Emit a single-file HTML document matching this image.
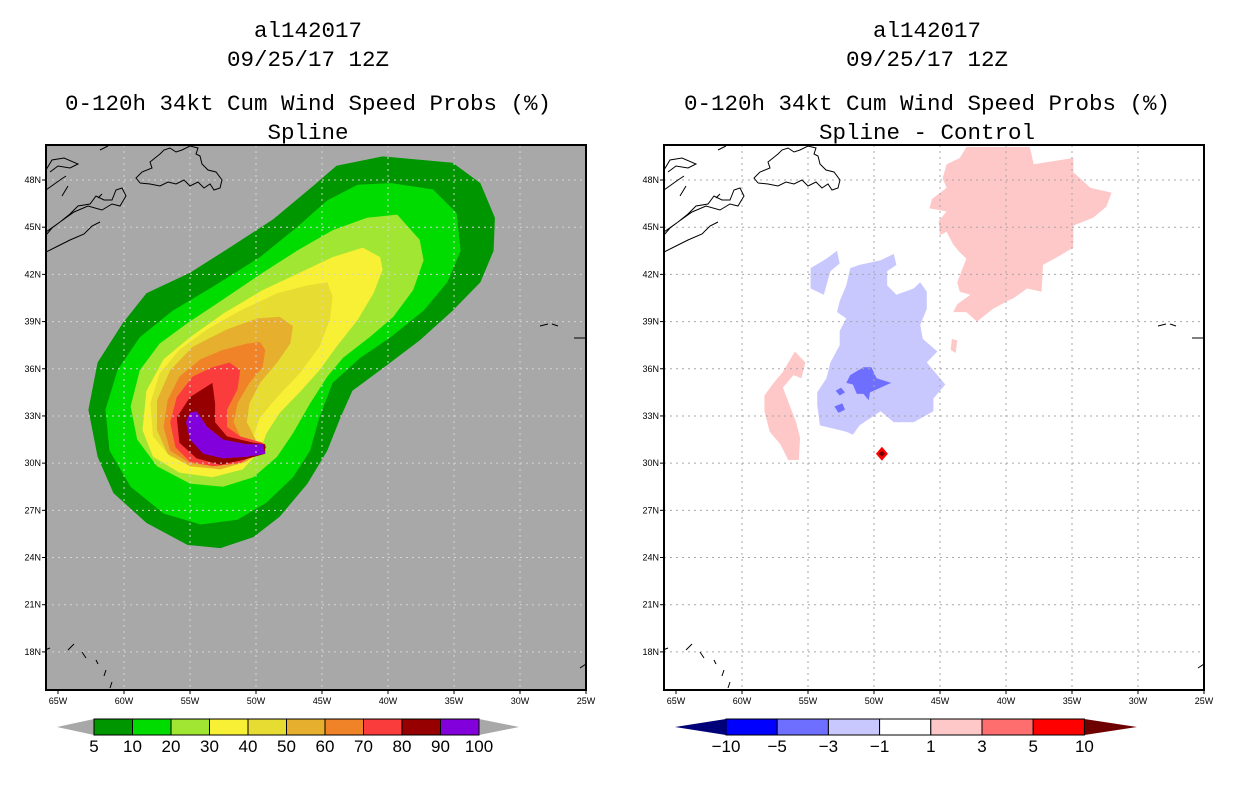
<!DOCTYPE html>
<html><head><meta charset="utf-8"><style>
body{margin:0;background:#fff;}
svg{display:block;font-family:"Liberation Sans",sans-serif;}
.t{font-family:"Liberation Mono","DejaVu Sans Mono",monospace;font-size:22.5px;text-anchor:middle;fill:#000}
.ax{font-size:9px;fill:#000}
</style></head><body>
<svg id="s" width="1236" height="800" viewBox="0 0 1236 800" xmlns="http://www.w3.org/2000/svg">
<text class="t" x="308" y="37">al142017</text>
<text class="t" x="308" y="66">09/25/17 12Z</text>
<text class="t" x="308" y="110">0-120h 34kt Cum Wind Speed Probs (%)</text>
<text class="t" x="308" y="139">Spline</text>
<text class="t" x="927" y="37">al142017</text>
<text class="t" x="927" y="66">09/25/17 12Z</text>
<text class="t" x="927" y="110">0-120h 34kt Cum Wind Speed Probs (%)</text>
<text class="t" x="927" y="139">Spline - Control</text>
</svg>
<script>
// ---- data ----
const lonTicks=[-65,-60,-55,-50,-45,-40,-35,-30,-25];
const lonLabels=["65W","60W","55W","50W","45W","40W","35W","30W","25W"];
const latTicks=[18,21,24,27,30,33,36,39,42,45,48];
const latLabels=["18N","21N","24N","27N","30N","33N","36N","39N","42N","45N","48N"];
const probLevels=[5,10,20,30,40,50,60,70,80,90];
const probColors=["#009600","#00dc00","#a0e632","#f8f034","#e6dc32","#e6af2d","#f08228","#fa3c3c","#960000","#8200dc"];
const probContours=[
[[-40.4,49.5],[-35.1,49.1],[-33.0,47.8],[-31.9,45.6],[-32.0,43.5],[-33.0,41.5],[-35.1,39.7],[-37.6,37.8],[-40.6,35.9],[-42.7,34.6],[-43.6,32.9],[-44.6,30.8],[-46.1,28.7],[-48.2,26.6],[-50.2,25.3],[-52.7,24.6],[-55.2,24.8],[-58.3,26.2],[-60.8,28.1],[-62.0,30.4],[-62.7,33.4],[-62.0,36.4],[-60.1,38.9],[-58.3,40.8],[-55.0,42.1],[-52.0,43.7],[-48.7,45.5],[-45.7,47.6],[-43.9,48.9]],
[[-39.8,47.8],[-36.6,47.4],[-34.8,45.9],[-34.5,43.5],[-35.5,41.5],[-37.3,39.7],[-39.8,38.0],[-42.1,36.7],[-44.2,35.1],[-45.2,32.9],[-45.9,30.8],[-47.2,29.1],[-49.2,27.5],[-51.4,26.4],[-54.2,26.1],[-57.0,26.8],[-59.5,28.5],[-61.1,30.8],[-61.4,33.4],[-60.5,35.9],[-58.8,38.0],[-56.3,39.7],[-53.3,41.2],[-49.7,43.1],[-46.9,45.0],[-44.6,46.7],[-42.3,47.7]],
[[-39.3,45.8],[-37.6,44.2],[-37.3,42.9],[-38.1,41.0],[-39.6,39.3],[-41.4,38.0],[-43.4,36.7],[-44.6,35.5],[-45.9,33.8],[-47.2,31.9],[-48.4,30.4],[-50.2,29.1],[-52.5,28.5],[-55.0,28.7],[-57.5,29.8],[-59.0,31.5],[-59.5,33.6],[-58.8,35.9],[-57.3,37.6],[-55.2,38.9],[-52.5,40.4],[-49.5,42.1],[-46.9,43.5],[-44.2,44.8],[-41.6,45.6]],
[[-41.9,43.7],[-40.6,43.1],[-40.4,42.3],[-41.1,40.8],[-42.3,39.1],[-43.9,37.4],[-45.2,35.9],[-46.7,34.5],[-48.2,33.2],[-49.2,31.9],[-49.7,30.8],[-51.0,29.6],[-53.3,29.1],[-55.8,29.4],[-57.8,30.4],[-58.6,32.1],[-58.3,34.6],[-57.0,36.6],[-55.0,38.0],[-52.5,39.5],[-49.5,41.0],[-46.7,42.1],[-44.2,43.1]],
[[-44.6,41.5],[-44.2,40.6],[-44.4,39.1],[-45.2,37.4],[-46.7,35.7],[-48.4,34.2],[-49.7,32.9],[-50.2,31.7],[-50.7,30.4],[-52.2,29.8],[-54.5,29.8],[-56.5,30.4],[-57.8,31.7],[-58.0,33.8],[-57.3,35.7],[-55.8,37.2],[-53.7,38.5],[-51.2,39.7],[-48.4,40.8],[-46.1,41.3]],
[[-48.2,39.3],[-47.2,38.7],[-47.4,37.6],[-48.4,36.4],[-49.7,35.1],[-50.5,33.8],[-50.7,32.6],[-49.9,31.3],[-49.3,31.0],[-50.7,30.1],[-52.7,29.6],[-55.0,29.8],[-56.7,30.6],[-57.5,32.1],[-57.5,34.0],[-56.5,35.9],[-54.8,37.4],[-52.2,38.5],[-49.9,39.2]],
[[-49.7,37.7],[-49.3,37.2],[-49.5,36.1],[-50.5,35.1],[-51.4,33.8],[-51.7,32.6],[-51.2,31.7],[-49.7,31.3],[-49.2,31.0],[-51.0,30.1],[-53.0,29.8],[-55.0,30.0],[-56.5,30.8],[-57.0,32.3],[-56.7,34.0],[-55.8,35.5],[-54.2,36.6],[-52.5,37.2],[-50.7,37.6]],
[[-52.0,36.4],[-51.2,35.9],[-51.4,34.7],[-52.2,33.4],[-52.2,32.3],[-51.2,31.7],[-49.5,31.3],[-49.2,31.0],[-51.2,30.0],[-53.3,29.8],[-55.0,30.1],[-56.1,31.0],[-56.5,32.6],[-56.0,34.2],[-54.8,35.5],[-53.3,36.1]],
[[-53.3,35.1],[-53.1,33.8],[-53.1,32.6],[-52.2,31.7],[-50.2,31.3],[-49.3,31.2],[-49.3,30.6],[-51.0,30.2],[-52.7,29.9],[-54.5,30.3],[-55.8,31.3],[-56.0,32.9],[-55.0,34.2]],
[[-54.5,33.3],[-53.7,32.3],[-52.5,31.5],[-50.7,31.2],[-49.5,31.2],[-49.3,30.6],[-50.7,30.4],[-52.5,30.3],[-54.0,30.6],[-55.0,31.5],[-55.3,32.6],[-55.0,33.2]]
];
const diffLevels=[-10,-5,-3,-1,1,3,5,10];
const diffColors=["#0000ff","#6e6eff","#c8c8ff","#ffffff","#ffc8c8","#ff6e6e","#ff0000"];
const diffTipColors=["#000078","#6e0000"];
const diffRegions=[
 {v:2, pts:[[-43.0,50.1],[-38.2,50.1],[-37.9,49.0],[-34.9,49.4],[-34.9,48.5],[-33.6,47.5],[-32.0,47.2],[-32.4,46.3],[-33.4,45.6],[-34.9,45.1],[-34.9,43.7],[-35.9,43.2],[-37.2,42.6],[-37.3,40.9],[-38.4,41.1],[-39.4,40.5],[-39.9,40.3],[-41.0,39.8],[-42.2,39.0],[-43.0,39.6],[-44.0,39.6],[-43.7,40.1],[-42.7,40.7],[-43.5,40.9],[-43.7,41.5],[-43.0,43.0],[-43.5,43.4],[-44.0,43.9],[-44.5,44.7],[-45.0,44.5],[-45.1,45.4],[-44.5,46.0],[-45.8,46.2],[-45.6,46.8],[-44.5,47.5],[-44.8,48.1],[-44.5,49.0],[-43.5,49.4]]},
 {v:-2, pts:[[-51.1,42.6],[-49.5,42.9],[-48.5,43.3],[-48.3,42.6],[-49.0,42.2],[-49.0,41.3],[-48.3,40.7],[-47.0,41.1],[-46.5,41.5],[-46.0,40.9],[-46.0,39.8],[-46.5,38.8],[-46.3,37.9],[-45.2,37.1],[-46.0,36.4],[-45.0,35.4],[-44.6,35.0],[-45.5,34.1],[-45.5,33.3],[-47.0,32.6],[-48.5,32.6],[-49.5,33.3],[-51.1,32.4],[-51.6,31.8],[-52.1,32.0],[-54.1,32.4],[-54.3,33.7],[-54.3,34.5],[-53.6,35.4],[-53.3,36.4],[-52.6,37.5],[-52.6,38.4],[-52.1,39.2],[-52.8,39.6],[-52.6,40.3],[-52.1,41.3],[-51.8,42.4]]},
 {v:-2, pts:[[-54.8,42.4],[-53.6,43.0],[-52.8,43.5],[-52.6,42.7],[-53.3,42.2],[-53.8,40.7],[-54.8,41.1]]},
 {v:-4, pts:[[-51.8,35.6],[-50.8,36.1],[-50.2,36.1],[-49.8,35.4],[-48.7,35.1],[-49.5,34.8],[-50.3,34.5],[-50.4,34.0],[-50.8,34.4],[-51.3,34.4],[-51.6,35.0],[-52.1,35.1]]},
 {v:-4, pts:[[-52.9,34.6],[-52.5,34.8],[-52.2,34.5],[-52.6,34.3]]},
 {v:-4, pts:[[-53.0,33.6],[-52.4,33.8],[-52.2,33.4],[-52.7,33.2]]},
 {v:2, pts:[[-56.0,37.1],[-55.2,36.4],[-55.5,35.4],[-56.1,35.6],[-56.9,34.8],[-56.4,33.7],[-55.9,32.6],[-55.6,31.6],[-55.7,30.2],[-56.5,30.2],[-57.1,31.2],[-57.9,32.0],[-58.3,33.3],[-58.3,34.3],[-57.6,35.1],[-56.9,35.8]]},
 {v:2, pts:[[-44.1,37.9],[-43.7,37.8],[-43.8,37.0],[-44.2,37.2]]}
];
const peakLon=-49.4, peakLat=30.6;

// ---- layout ----
const NS="http://www.w3.org/2000/svg";
const svg=document.getElementById('s');
const P0={x0:46,x1:586,y0:145,y1:690};
function X(lon,off){return 586+(lon+25)*13.2+off;}
function Y(lat){return 180-(lat-48)*15.73;}
function mk(tag,attrs,parent){const e=document.createElementNS(NS,tag);for(const k in attrs)e.setAttribute(k,attrs[k]);(parent||svg).appendChild(e);return e;}
function poly(pts,off){return pts.map(p=>X(p[0],off).toFixed(1)+","+Y(p[1]).toFixed(1)).join(" ");}

const coast="M46,170 L52,160 L64,158 L78,164 L70,168 L58,166 L50,172 M46,190 L60,180 L66,176 M62,196 L68,186 M46,232 L60,222 L74,212 L88,206 L102,210 L112,204 L120,206 L126,196 L122,188 L116,190 L112,200 L104,200 L96,196 L90,204 L78,206 L70,214 L60,222 L52,228 L46,235 M46,252 L58,246 L70,240 L84,234 L92,226 L100,222 M98,198 L102,194 M140,183 L136,178 L142,172 L152,168 L150,162 L160,154 L164,150 L170,148 L176,152 L182,150 L190,146 L198,148 L196,154 L200,156 L202,164 L208,170 L216,172 L222,180 L220,188 L214,190 L210,184 L204,188 L198,182 L190,186 L184,180 L176,184 L168,182 L160,186 L150,184 L140,183 M176,140 L180,146 M100,150 L108,146 M40,652 L50,648 M68,650 L74,644 M82,652 L86,658 M96,660 L98,664 M106,670 L104,676 M112,682 L110,688 M580,668 L586,664 M540,326 L548,324 M552,324 L558,326 M574,338 L586,338";

function panel(off,bg,gridColor,name){
  const g=mk('g',{});
  
  
  const cid='clip'+off;
  const cp=mk('clipPath',{id:cid},g);
  mk('rect',{x:P0.x0+off,y:P0.y0,width:540,height:545},cp);
  const bgR=mk('rect',{x:P0.x0+off,y:P0.y0,width:540,height:545,fill:bg},g);
  
  
  const inner=mk('g',{'clip-path':'url(#'+cid+')'},g);
  return {g,inner};
}

const L=panel(0,"#a8a8a8","#d0d0d0","left-map-panel");
probContours.forEach((pts,i)=>{
  const p=mk('polygon',{points:poly(pts,0),fill:probColors[i]},L.inner);
  
  
});
const R=panel(618,"#ffffff","#a0a0a0","right-map-panel");
const diffColorFor=v=>{for(let i=0;i<diffLevels.length-1;i++){if(v>=diffLevels[i]&&v<diffLevels[i+1])return diffColors[i];}return v<0?diffTipColors[0]:diffTipColors[1];};
diffRegions.forEach((r,i)=>{
  const p=mk('polygon',{points:poly(r.pts,618),fill:diffColorFor(r.v)},R.inner);
  
  
});
{
  const cx=X(peakLon,618), cy=Y(peakLat);
  const d=mk('polygon',{points:`${cx},${cy-7} ${cx+6},${cy} ${cx},${cy+7} ${cx-6},${cy}`,fill:"#ff0000"},R.inner);
  
  
  const d2=mk('polygon',{points:`${cx},${cy-3} ${cx+3},${cy} ${cx},${cy+3} ${cx-3},${cy}`,fill:"#6e0000"},R.inner);
  
  
}

[[L,0,"#d4d4d4"],[R,618,"#a8a8a8"]].forEach(([pn,off,gc],pi)=>{
  const side=pi?'right':'left';
  lonTicks.slice(1,-1).forEach(lon=>{
    const l=mk('line',{x1:X(lon,off),x2:X(lon,off),y1:P0.y0,y2:P0.y1,stroke:gc,'stroke-width':1,'stroke-dasharray':'2,4'},pn.inner);
    
    
  });
  latTicks.forEach(lat=>{
    const l=mk('line',{x1:P0.x0+off,x2:P0.x1+off,y1:Y(lat),y2:Y(lat),stroke:gc,'stroke-width':1,'stroke-dasharray':'2,4'},pn.inner);
    
    
  });
  const c=mk('path',{d:coast,fill:'none',stroke:'#000','stroke-width':1,transform:'translate('+off+',0)'},pn.inner);
  
  
  const fr=mk('rect',{x:P0.x0+off,y:P0.y0,width:540,height:545,fill:'none',stroke:'#000','stroke-width':2},pn.g);
  
  
  lonTicks.forEach((lon,i)=>{
    const x=X(lon,off);
    const tk=mk('line',{x1:x,x2:x,y1:690,y2:694,stroke:'#000'},pn.g);
    
    
    const t=mk('text',{x:x,y:704,class:'ax','text-anchor':'middle'},pn.g);
    t.textContent=lonLabels[i];
    
    
  });
  latTicks.forEach((lat,i)=>{
    const y=Y(lat);
    const tk=mk('line',{x1:42+off,x2:46+off,y1:y,y2:y,stroke:'#000'},pn.g);
    
    
    const t=mk('text',{x:41+off,y:y+3,class:'ax','text-anchor':'end'},pn.g);
    t.textContent=latLabels[i];
    
    
  });
});

{
  const g=mk('g',{});
  
  
  const bx0=94,bw=38.5,yt=719,yb=735;
  const n=probColors.length, bx1=bx0+n*bw;
  const tl=mk('polygon',{points:`${bx0},${yt} ${57},${(yt+yb)/2} ${bx0},${yb}`,fill:'#a8a8a8'},g);
  
  
  const tr=mk('polygon',{points:`${bx1},${yt} ${bx1+40},${(yt+yb)/2} ${bx1},${yb}`,fill:'#a8a8a8'},g);
  
  
  probColors.forEach((c,i)=>{
    const r=mk('rect',{x:bx0+i*bw,y:yt,width:bw,height:yb-yt,fill:c,stroke:'#000','stroke-width':1},g);
    
    
  });
  probLevels.concat([100]).forEach((v,i)=>{
    const t=mk('text',{x:bx0+i*bw,y:752,'font-size':'17','text-anchor':'middle',fill:'#000'},g);
    t.textContent=v;
    
    
  });
}
{
  const g=mk('g',{});
  
  
  const bx0=726,bw=51.2,yt=719,yb=735;
  const n=diffColors.length, bx1=bx0+n*bw;
  const tl=mk('polygon',{points:`${bx0},${yt} ${675},${(yt+yb)/2} ${bx0},${yb}`,fill:diffTipColors[0]},g);
  
  
  const tr=mk('polygon',{points:`${bx1},${yt} ${1137},${(yt+yb)/2} ${bx1},${yb}`,fill:diffTipColors[1]},g);
  
  
  diffColors.forEach((c,i)=>{
    const r=mk('rect',{x:bx0+i*bw,y:yt,width:bw,height:yb-yt,fill:c,stroke:'#000','stroke-width':1},g);
    
    
  });
  diffLevels.forEach((v,i)=>{
    const t=mk('text',{x:bx0+i*bw,y:752,'font-size':'17','text-anchor':'middle',fill:'#000'},g);
    t.textContent=v<0?'\u2212'+Math.abs(v):v;
    
    
  });
}
</script>
</body></html>
